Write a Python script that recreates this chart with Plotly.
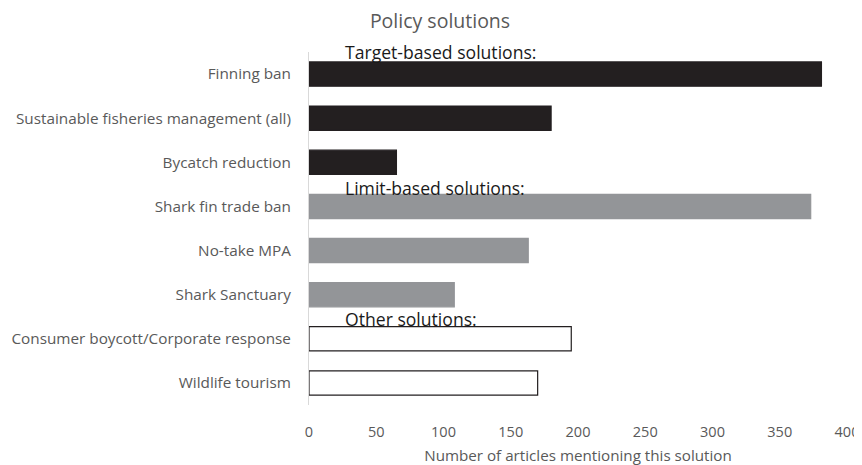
import plotly.graph_objects as go

categories = ["Finning ban", "Sustainable fisheries management (all)", "Bycatch reduction",
              "Shark fin trade ban", "No-take MPA", "Shark Sanctuary",
              "Consumer boycott/Corporate response", "Wildlife tourism"]
values = [381, 180, 65, 373, 163, 108, 195, 170]
groups = ["target", "target", "target", "limit", "limit", "limit", "other", "other"]
group_labels = ["Target-based solutions:", "Limit-based solutions:", "Other solutions:"]
x_ticks = [0, 50, 100, 150, 200, 250, 300, 350, 400]

fill = {"target": "#231f20", "limit": "#939598", "other": "#ffffff"}
edge = {"target": "#231f20", "limit": "#939598", "other": "#231f20"}

FONT = "Open Sans, sans-serif"
W, H = 854, 457  # page body has an 8px margin

fig = go.Figure(go.Bar(
    y=categories, x=values, orientation="h",
    marker=dict(color=[fill[g] for g in groups],
                line=dict(color=[edge[g] for g in groups], width=1.2)),
    width=0.55,
))

fig.update_layout(
    width=W, height=H,
    margin=dict(l=301, r=15, t=44, b=60),
    paper_bgcolor="white", plot_bgcolor="white",
    showlegend=False,
    font=dict(family=FONT, color="#595959", size=15),
    title=dict(text="Policy solutions", x=432 / W, xanchor="center", y=1 - 13 / H,
               yanchor="middle", font=dict(size=19.5, color="#595959", family=FONT)),
    xaxis=dict(range=[0, 400], tickvals=x_ticks, showgrid=False, zeroline=False,
               showline=False, ticks="", automargin=False, ticklabelstandoff=16,
               ticklabeloverflow="allow",
               tickfont=dict(size=14.5, color="#595959"),
               title=dict(text="Number of articles mentioning this solution",
                          font=dict(size=15.2, color="#595959"), standoff=10)),
    yaxis=dict(autorange="reversed", showgrid=False, showline=True, linecolor="#d9d9d9",
               linewidth=1, ticks="", ticklabelstandoff=14, automargin=False,
               tickfont=dict(size=15.3, color="#595959")),
)

label_y = [1.0, 0.614, 0.244]
for txt, yy in zip(group_labels, label_y):
    fig.add_annotation(text=txt, xref="x", yref="paper", x=25.3, y=yy,
                       xanchor="left", yanchor="middle", showarrow=False,
                       font=dict(size=17.6, color="#1a1a1a", family=FONT))

fig.write_html("out.html")
